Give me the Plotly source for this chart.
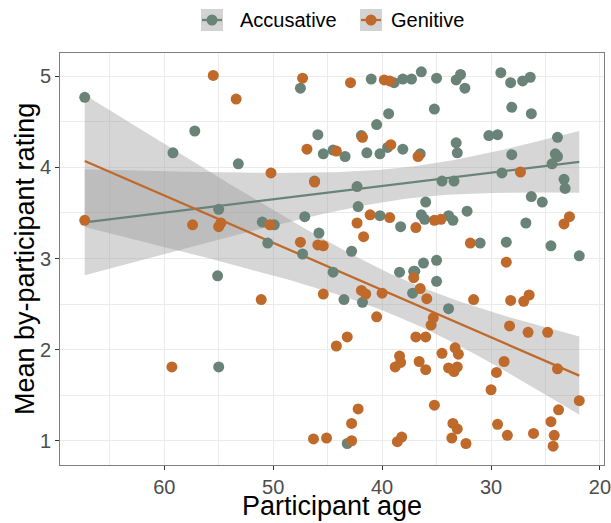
import numpy as np
import plotly.graph_objects as go

# ---- data ----
acc_age = [67.3, 57.2, 59.2, 53.2, 55.0, 55.1, 55.0, 47.5, 41.0, 38.9, 38.1, 37.3, 36.4, 39.4, 40.5,
           45.9, 41.9, 45.4, 44.5, 43.4, 41.4, 40.2, 39.5, 38.1, 46.2, 42.3, 42.2, 40.2, 38.3, 36.4,
           47.1, 51.0, 49.9, 45.8, 50.5, 42.8, 47.3, 44.5, 43.5, 41.8, 38.4, 37.1, 37.2, 43.2, 35.0,
           33.2, 32.8, 32.4, 29.1, 28.2, 27.1, 26.4, 35.2, 28.1, 26.3, 30.2, 29.4, 23.9, 33.2, 33.1,
           36.5, 28.1, 24.1, 23.9, 24.4, 29.0, 34.5, 33.4, 23.3, 23.2, 26.3, 25.3, 36.0, 36.1, 33.9,
           33.5, 32.2, 26.8, 31.0, 28.6, 24.5, 21.9, 37.0, 36.2, 35.0, 35.0, 33.9]
acc_rating = [4.77, 4.40, 4.16, 4.04, 3.54, 2.81, 1.81, 4.87, 4.97, 4.93, 4.97, 4.97, 5.05, 4.59, 4.47,
              4.36, 4.35, 4.15, 4.19, 4.12, 4.16, 4.15, 4.22, 4.20, 3.85, 3.79, 3.57, 3.47, 3.35, 3.48,
              3.46, 3.40, 3.37, 3.28, 3.17, 3.08, 3.05, 2.85, 2.55, 2.52, 2.85, 2.86, 2.62, 0.97, 4.98,
              4.96, 5.02, 4.87, 5.04, 4.93, 4.95, 4.99, 4.64, 4.66, 4.59, 4.35, 4.36, 4.33, 4.27, 4.16,
              4.15, 4.14, 4.15, 4.12, 4.04, 3.94, 3.85, 3.85, 3.87, 3.77, 3.68, 3.62, 3.62, 3.43, 3.47,
              3.42, 3.52, 3.39, 3.17, 3.18, 3.14, 3.03, 2.86, 2.95, 2.98, 2.75, 2.45]

gen_age = [55.5, 53.4, 67.3, 57.4, 55.0, 54.8, 59.3, 47.3, 42.9, 39.8, 39.3, 41.8, 46.9, 44.2, 39.2,
           36.7, 50.2, 46.2, 41.1, 39.3, 36.9, 42.3, 41.7, 50.3, 47.5, 45.9, 45.4, 45.4, 41.9, 41.5,
           40.0, 37.1, 36.5, 51.1, 40.5, 43.2, 44.2, 36.9, 38.4, 38.3, 38.8, 36.6, 42.2, 42.8, 46.3,
           45.1, 42.8, 38.6, 38.2, 35.2, 34.6, 22.8, 23.3, 31.9, 28.6, 35.9, 31.6, 28.2, 27.0, 26.5,
           35.3, 35.5, 36.0, 28.3, 26.6, 24.8, 34.5, 33.3, 33.0, 36.0, 33.9, 33.4, 33.1, 28.8, 29.5,
           23.9, 30.0, 21.9, 35.2, 23.8, 24.5, 33.5, 33.1, 29.4, 33.6, 32.3, 28.5, 26.1, 24.2, 24.3,
           27.3]
gen_rating = [5.01, 4.75, 3.42, 3.37, 3.35, 3.39, 1.81, 4.98, 4.93, 4.96, 4.95, 4.33, 4.20, 4.18, 4.25,
              4.12, 3.94, 3.84, 3.48, 3.45, 3.34, 3.39, 3.24, 3.37, 3.18, 3.15, 3.14, 2.61, 2.65, 2.61,
              2.62, 2.79, 2.67, 2.55, 2.36, 2.14, 2.04, 2.14, 1.93, 1.86, 1.81, 1.87, 1.35, 1.19, 1.02,
              1.03, 1.00, 0.99, 1.04, 3.42, 3.43, 3.46, 3.38, 3.17, 2.96, 2.56, 2.55, 2.54, 2.53, 2.60,
              2.35, 2.27, 2.14, 2.26, 2.19, 2.19, 1.96, 2.02, 1.95, 1.78, 1.80, 1.76, 1.81, 1.87, 1.75,
              1.79, 1.56, 1.44, 1.39, 1.34, 1.21, 1.19, 1.13, 1.18, 1.03, 0.97, 1.06, 1.08, 1.06, 0.94,
              3.95]

series_names = ["Accusative", "Genitive"]
x_ticks = [60, 50, 40, 30, 20]
y_ticks = [1, 2, 3, 4, 5]
x_title = "Participant age"
y_title = "Mean by-participant rating"

ACC_COL = "#6a8379"
GEN_COL = "#bf6a2b"
BAND_FILL = "rgba(153,153,153,0.4)"
KEY_FILL = "#d3d3d3"
T_CRIT = 1.99

W, H = 611, 523
ML, MR, MT, MB = 60, 7, 53, 58
PW, PH = W - ML - MR, H - MT - MB


def lm_fit(xs, ys):
    x = np.asarray(xs, float)
    y = np.asarray(ys, float)
    n = len(x)
    b, a = np.polyfit(x, y, 1)
    resid = y - (a + b * x)
    s = np.sqrt(np.sum(resid ** 2) / (n - 2))
    xm = x.mean()
    sxx = np.sum((x - xm) ** 2)
    grid = np.linspace(x.min(), x.max(), 80)
    fit = a + b * grid
    se = s * np.sqrt(1.0 / n + (grid - xm) ** 2 / sxx)
    return grid, fit, fit - T_CRIT * se, fit + T_CRIT * se


def px2paper_x(px):
    return (px - ML) / PW


def py2paper_y(py):
    return (H - MB - py) / PH


fig = go.Figure()

groups = [(series_names[0], acc_age, acc_rating, ACC_COL),
          (series_names[1], gen_age, gen_rating, GEN_COL)]

for name, xa, ya, col in groups:
    g, f, lo, hi = lm_fit(xa, ya)
    fig.add_trace(go.Scatter(x=np.concatenate([g, g[::-1]]), y=np.concatenate([hi, lo[::-1]]),
                             fill="toself", fillcolor=BAND_FILL, line=dict(width=0),
                             mode="lines", showlegend=False, hoverinfo="skip"))
for name, xa, ya, col in groups:
    g, f, lo, hi = lm_fit(xa, ya)
    fig.add_trace(go.Scatter(x=g, y=f, mode="lines", line=dict(color=col, width=2.3),
                             showlegend=False, hoverinfo="skip"))
for name, xa, ya, col in groups:
    fig.add_trace(go.Scatter(x=xa, y=ya, mode="markers", name=name,
                             marker=dict(color=col, size=11, line=dict(width=0)),
                             showlegend=False))

# manual legend (ggplot-style keys)
shapes = []
annotations = []
key_centers = [212, 371]
text_left = [238, 389]
key_cy = 20
for (name, xa, ya, col), kc, tl in zip(groups, key_centers, text_left):
    shapes.append(dict(type="rect", xref="paper", yref="paper",
                       x0=px2paper_x(kc - 11), x1=px2paper_x(kc + 11),
                       y0=py2paper_y(key_cy + 11), y1=py2paper_y(key_cy - 11),
                       fillcolor=KEY_FILL, line=dict(width=0), layer="above"))
    shapes.append(dict(type="line", xref="paper", yref="paper",
                       x0=px2paper_x(kc - 10), x1=px2paper_x(kc + 10),
                       y0=py2paper_y(key_cy), y1=py2paper_y(key_cy),
                       line=dict(color=col, width=2.3), layer="above"))
    shapes.append(dict(type="circle", xref="paper", yref="paper",
                       x0=px2paper_x(kc - 5.5), x1=px2paper_x(kc + 5.5),
                       y0=py2paper_y(key_cy + 5.5), y1=py2paper_y(key_cy - 5.5),
                       fillcolor=col, line=dict(width=0), layer="above"))
    annotations.append(dict(text=name, xref="paper", yref="paper",
                            x=px2paper_x(tl), y=py2paper_y(key_cy), xanchor="left", yanchor="middle",
                            showarrow=False, font=dict(size=20, color="#000000")))

# axis titles
annotations.append(dict(text=x_title, xref="paper", yref="paper",
                        x=0.5, y=py2paper_y(523), xanchor="center", yanchor="bottom",
                        showarrow=False, font=dict(size=27, color="#000000")))
annotations.append(dict(text=y_title, xref="paper", yref="paper", textangle=-90,
                        x=px2paper_x(25), y=0.5, xanchor="center", yanchor="middle",
                        showarrow=False, font=dict(size=27, color="#000000")))

grid_col = "#ebebeb"
fig.update_layout(
    width=W, height=H,
    paper_bgcolor="white", plot_bgcolor="white",
    margin=dict(l=ML, r=MR, t=MT, b=MB, autoexpand=False),
    showlegend=False,
    font=dict(family="Liberation Sans, Arial, sans-serif", color="#000000"),
    shapes=shapes, annotations=annotations,
    xaxis=dict(range=[69.57, 19.63], tickvals=x_ticks, ticktext=[str(v) for v in x_ticks],
               tickfont=dict(size=20, color="#4d4d4d"), ticks="outside", ticklen=4,
               tickcolor="#333333", automargin=False, ticklabeloverflow="allow",
               showgrid=True, gridcolor=grid_col, gridwidth=1.2,
               minor=dict(dtick=5, tick0=0, showgrid=True, gridcolor=grid_col, gridwidth=0.6),
               showline=True, mirror=True, linecolor="#7f7f7f", linewidth=1,
               zeroline=False),
    yaxis=dict(range=[0.734, 5.256], tickvals=y_ticks, ticktext=[str(v) for v in y_ticks],
               tickfont=dict(size=20, color="#4d4d4d"), ticks="outside", ticklen=4,
               tickcolor="#333333", automargin=False, ticklabeloverflow="allow",
               showgrid=True, gridcolor=grid_col, gridwidth=1.2,
               minor=dict(dtick=0.5, tick0=0, showgrid=True, gridcolor=grid_col, gridwidth=0.6),
               showline=True, mirror=True, linecolor="#7f7f7f", linewidth=1,
               zeroline=False),
)

fig.write_html("out.html", config={"displayModeBar": False},
               post_script="document.body.style.margin='0px';")
